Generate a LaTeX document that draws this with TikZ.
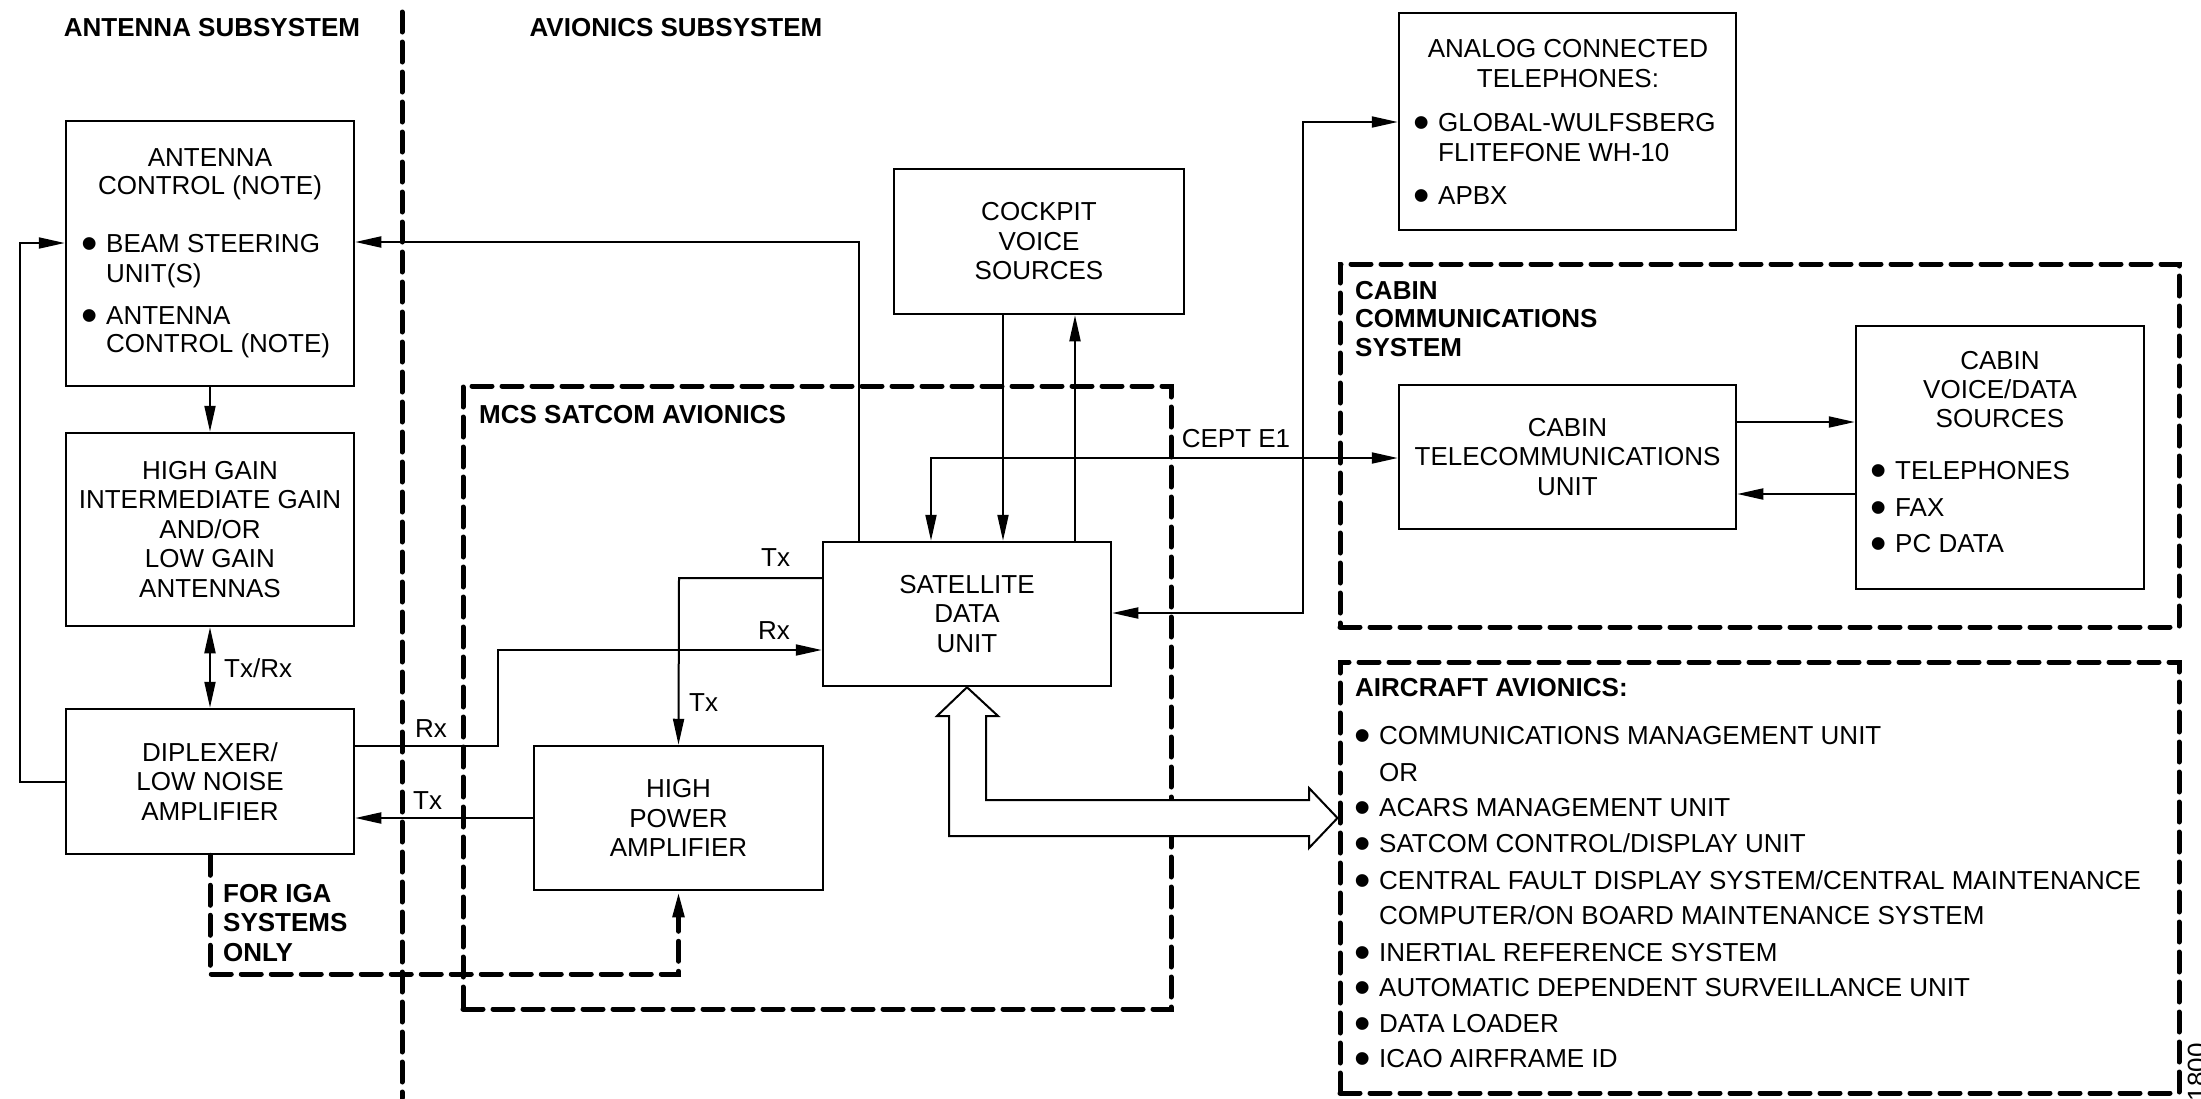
\documentclass[tikz,border=0pt]{standalone}
\usepackage{fontspec}
\usepackage{graphicx}
\setmainfont{Liberation Sans}
\usetikzlibrary{arrows.meta,calc}
\newcommand{\fsz}{\fontsize{26}{29.5}\selectfont}
\newcommand{\bulit}{\makebox[0pt][r]{\smash{\raisebox{-7.5pt}{\scalebox{1.8}{•}}}\hspace{8pt}}}
\tikzset{
  bx/.style={draw, line width=2.5pt, font=\fsz, align=center, inner sep=0pt},
  dbox/.style={draw, line width=5pt, dash pattern=on 20pt off 10pt, line cap=round, inner sep=0pt},
  dsh/.style={line width=5pt, dash pattern=on 20pt off 10pt, line cap=round},
  lbl/.style={inner sep=0pt, text height=18.6pt, text depth=0pt, font=\fsz},
  blbl/.style={lbl, font=\fsz\bfseries},
  conn/.style={line width=2pt},
  arr/.style={conn, -{Triangle[length=26pt,width=11pt]}},
  darr/.style={conn, {Triangle[length=26pt,width=11pt]}-{Triangle[length=26pt,width=11pt]}},
}
\begin{document}
\begin{tikzpicture}[x=1pt,y=-1pt]
\useasboundingbox[fill=white] (0,0) rectangle (2201,1098);

% dashed containers and divider
\node[dbox, minimum width=708pt, minimum height=623pt] (mcs) at (817,697.5) {};
\node[dbox, minimum width=839pt, minimum height=363pt] (cabin) at (1759.5,445.5) {};
\node[dbox, minimum width=839pt, minimum height=431pt] (acav) at (1759.5,877.5) {};
\draw[dsh] (402,12) -- (402,1098);

% titles
\node[blbl] (tA) at (212,27) {ANTENNA SUBSYSTEM};
\node[blbl] (tB) at (676,27) {AVIONICS SUBSYSTEM};
\node[blbl, anchor=west] (tC) at (479,414) {MCS SATCOM AVIONICS};
\node[blbl, anchor=west] (tD1) at (1355,290) {CABIN};
\node[blbl, anchor=west] (tD2) at (1355,318) {COMMUNICATIONS};
\node[blbl, anchor=west] (tD3) at (1355,347) {SYSTEM};
\node[blbl, anchor=west] (tE) at (1355,687) {AIRCRAFT AVIONICS:};
\node[blbl, anchor=west] (tF1) at (223,893) {FOR IGA};
\node[blbl, anchor=west] (tF2) at (223,922) {SYSTEMS};
\node[blbl, anchor=west] (tF3) at (223,952) {ONLY};

% boxes
\node[bx, minimum width=288pt, minimum height=265pt] (ant) at (210,253.5) {};
\node[bx, minimum width=288pt, minimum height=193pt] (hga) at (210,529.5) {HIGH GAIN\\INTERMEDIATE GAIN\\AND/OR\\LOW GAIN\\ANTENNAS};
\node[bx, minimum width=288pt, minimum height=145pt] (dip) at (210,781.5) {DIPLEXER/\\LOW NOISE\\AMPLIFIER};
\node[bx, minimum width=289pt, minimum height=144pt] (hpa) at (678.5,818) {HIGH\\POWER\\AMPLIFIER};
\node[bx, minimum width=288pt, minimum height=144pt] (sdu) at (967,614) {SATELLITE\\DATA\\UNIT};
\node[bx, minimum width=290pt, minimum height=145pt] (cvs) at (1039,241.5) {COCKPIT\\VOICE\\SOURCES};
\node[bx, minimum width=337pt, minimum height=217pt] (phone) at (1567.5,121.5) {};
\node[bx, minimum width=337pt, minimum height=144pt] (ctu) at (1567.5,457) {CABIN\\TELECOMMUNICATIONS\\UNIT};
\node[bx, minimum width=288pt, minimum height=263pt] (cvd) at (2000,457.5) {};

% antenna control text
\node[lbl] (ant1) at (210,157) {ANTENNA};
\node[lbl] (ant2) at (210,185) {CONTROL (NOTE)};
\node[lbl, anchor=west] (ant3) at (106,243) {\bulit BEAM STEERING};
\node[lbl, anchor=west] (ant4) at (106,273) {UNIT(S)};
\node[lbl, anchor=west] (ant5) at (106,315) {\bulit ANTENNA};
\node[lbl, anchor=west] (ant6) at (106,343) {CONTROL (NOTE)};

% phone text
\node[lbl] (ph1) at (1568,48) {ANALOG CONNECTED};
\node[lbl] (ph2) at (1568,78) {TELEPHONES:};
\node[lbl, anchor=west] (ph3) at (1438,122) {\bulit GLOBAL-WULFSBERG};
\node[lbl, anchor=west] (ph4) at (1438,152) {FLITEFONE WH-10};
\node[lbl, anchor=west] (ph5) at (1438,195) {\bulit APBX};

% cabin voice/data text
\node[lbl] (cv1) at (2000,360) {CABIN};
\node[lbl] (cv2) at (2000,389) {VOICE/DATA};
\node[lbl] (cv3) at (2000,418) {SOURCES};
\node[lbl, anchor=west] (cv4) at (1895,470) {\bulit TELEPHONES};
\node[lbl, anchor=west] (cv5) at (1895,507) {\bulit FAX};
\node[lbl, anchor=west] (cv6) at (1895,543) {\bulit PC DATA};

% aircraft avionics list
\node[lbl, anchor=west] (av1) at (1379,735) {\bulit COMMUNICATIONS MANAGEMENT UNIT};
\node[lbl, anchor=west] (av2) at (1379,772) {OR};
\node[lbl, anchor=west] (av3) at (1379,807) {\bulit ACARS MANAGEMENT UNIT};
\node[lbl, anchor=west] (av4) at (1379,843) {\bulit SATCOM CONTROL/DISPLAY UNIT};
\node[lbl, anchor=west] (av5) at (1379,880) {\bulit CENTRAL FAULT DISPLAY SYSTEM/CENTRAL MAINTENANCE};
\node[lbl, anchor=west] (av6) at (1379,915) {COMPUTER/ON BOARD MAINTENANCE SYSTEM};
\node[lbl, anchor=west] (av7) at (1379,952) {\bulit INERTIAL REFERENCE SYSTEM};
\node[lbl, anchor=west] (av8) at (1379,987) {\bulit AUTOMATIC DEPENDENT SURVEILLANCE UNIT};
\node[lbl, anchor=west] (av9) at (1379,1023) {\bulit DATA LOADER};
\node[lbl, anchor=west] (av10) at (1379,1058) {\bulit ICAO AIRFRAME ID};

% connector labels
\node[lbl, anchor=west] (lTR) at (224,668) {Tx/Rx};
\node[lbl, anchor=west] (lR1) at (415,728) {Rx};
\node[lbl, anchor=west] (lT1) at (413,800) {Tx};
\node[lbl, anchor=west] (lR2) at (758,630) {Rx};
\node[lbl, anchor=west] (lT2) at (761,557) {Tx};
\node[lbl, anchor=west] (lT3) at (689,702) {Tx};
\node[lbl] (lCE) at (1236,438) {CEPT E1};
\node[lbl, rotate=90, anchor=north east] (fig) at (2187,1043) {1800};

% corner coordinates
\coordinate (fb) at (20,243);
\coordinate (c1) at (859,242);
\coordinate (c2) at (931,458);
\coordinate (c3) at (1003,0);
\coordinate (c4) at (1075,0);
\coordinate (c5) at (1303,613);
\coordinate (c6) at (1303,122);
\coordinate (c7) at (0,422);
\coordinate (c8) at (0,494);
\coordinate (r1) at (498,746);
\coordinate (r2) at (498,650);
\coordinate (t1) at (679,578);
\coordinate (g1) at (0,974);
\coordinate (bt) at (0,818);

% connectors
\draw[arr] (ant.south) -- (hga.north);
\draw[darr] (hga.south) -- (dip.north);
\draw[arr] (dip.west) -| (fb) -- (ant.west |- fb);
\draw[arr] (sdu.north -| c1) -- (c1) -- (ant.east |- c1);
\draw[darr] (sdu.north -| c2) -- (c2) -- (ctu.west |- c2);
\draw[arr] (cvs.south -| c3) -- (sdu.north -| c3);
\draw[arr] (sdu.north -| c4) -- (cvs.south -| c4);
\draw[darr] (sdu.east |- c5) -- (c5) -- (c6) -- (phone.west |- c6);
\draw[arr] (ctu.east |- c7) -- (cvd.west |- c7);
\draw[arr] (cvd.west |- c8) -- (ctu.east |- c8);
\draw[arr] (dip.east |- r1) -- (r1) -- (r2) -- (sdu.west |- r2);
\draw[arr] (sdu.west |- t1) -- (t1) -- (hpa.north);
\draw[arr] (hpa.west) -- (dip.east |- hpa.west);
\draw[dsh, -{Triangle[length=26pt,width=11pt]}] (dip.south) -- (dip.south |- g1) -| (hpa.south);

% wide double arrow SDU <-> aircraft avionics
\draw[conn, fill=white, line join=miter] (sdu.south) -- (998,716) -- (986,716) -- (986,800) -- (1309,800) -- (1309,788)
  -- (acav.west |- bt) -- (1309,848) -- (1309,836) -- (949,836) -- (949,716) -- (937,716) -- cycle;
\end{tikzpicture}
\end{document}
